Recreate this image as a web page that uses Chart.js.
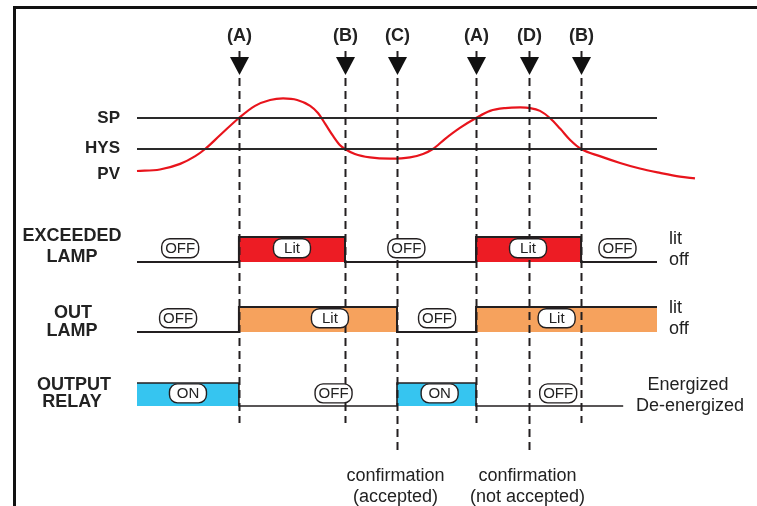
<!DOCTYPE html>
<html>
<head>
<meta charset="utf-8">
<script src="https://cdn.jsdelivr.net/npm/chart.js@4/dist/chart.umd.min.js"></script>
<style>
html,body{margin:0;padding:0;background:#fff;}
#wrap{width:757px;height:506px;}
</style>
</head>
<body>
<div id="wrap"><canvas id="c" width="757" height="506"></canvas></div>
<script>
// ---- DATA ----
const spValue = 60;
const hysValue = 50;
const pvTimes  = [0, 4.4, 8.3, 11.2, 13.1, 16.0, 19.6, 22.7, 25.6, 28.1, 30.8, 33.3, 34.8, 36.2, 37.7, 39.0, 40.0, 41.9, 44.8, 48.7, 52.5, 55.0, 56.9, 59.2, 62.1, 65.2, 67.9, 70.8, 73.7, 75.6, 77.5, 79.4, 81.4, 83.3, 85.4, 89.0, 92.9, 96.7, 100.6, 104.4, 107.3];
const pvValues = [42.9, 43.4, 45.2, 47.7, 50.0, 54.5, 60.0, 63.9, 65.8, 66.3, 65.8, 63.9, 61.6, 58.1, 54.2, 51.3, 50.0, 48.4, 47.3, 46.9, 47.3, 48.4, 50.0, 53.2, 56.8, 60.0, 62.3, 63.2, 63.4, 63.2, 62.3, 60.0, 56.5, 52.9, 50.0, 47.7, 45.5, 43.7, 42.3, 41.1, 40.5];
const traceEnd = 100;

const eventTimes  = [19.6, 40.0, 50.0, 65.2, 75.4, 85.4];
const eventNames  = ['(A)', '(B)', '(C)', '(A)', '(D)', '(B)'];
const eventNotes  = [null, null, ['confirmation', '(accepted)'], null, ['confirmation', '(not accepted)'], null];

const exceededTimes  = [0, 19.6, 40.0, 65.2, 85.4, 100];
const exceededStates = [0, 1, 0, 1, 0, 0];
const exceededPillTimes = [8.3, 29.8, 51.8, 75.2, 92.4];
const exceededPillTexts = ['OFF', 'Lit', 'OFF', 'Lit', 'OFF'];

const outTimes  = [0, 19.6, 50.0, 65.2, 100];
const outStates = [0, 1, 0, 1, 1];
const outPillTimes = [7.9, 37.1, 57.7, 80.7];
const outPillTexts = ['OFF', 'Lit', 'OFF', 'Lit'];

const relayTimes  = [0, 19.6, 50.0, 65.2, 93.5];
const relayStates = [1, 0, 1, 0, 0];
const relayPillTimes = [9.8, 37.8, 58.2, 81.0];
const relayPillTexts = ['ON', 'OFF', 'ON', 'OFF'];

// ---- STYLE / LAYOUT ----
const DARK = '#231F20';
const RED = '#E8141C';
const FILL_RED = '#ED1C24';
const FILL_ORANGE = '#F6A25D';
const FILL_BLUE = '#36C5F0';
const FONT = '"Liberation Sans", Arial, sans-serif';

const pts = (xs, ys) => xs.map((x, i) => ({x: x, y: ys[i]}));

const rowLayout = {
  yEx:  {base: 262, high: 237},
  yOut: {base: 332, high: 307},
  yRel: {base: 406, high: 383}
};
function rowScale(r) {
  const u = r.base - r.high;
  return {type: 'linear', display: false, min: -(506 - r.base) / u, max: r.base / u};
}

const annot = {
  id: 'annot',
  afterDatasetsDraw(chart) {
    const ctx = chart.ctx;
    const X = chart.scales.x;
    ctx.save();
    // frame
    ctx.strokeStyle = '#111';
    ctx.lineWidth = 3;
    ctx.beginPath();
    ctx.moveTo(14.5, 506); ctx.lineTo(14.5, 7.5); ctx.lineTo(757, 7.5);
    ctx.stroke();

    // event markers
    eventTimes.forEach((t, i) => {
      const px = Math.round(X.getPixelForValue(t)) + 0.5;
      ctx.strokeStyle = DARK;
      ctx.lineWidth = 2;
      ctx.setLineDash([8, 5]);
      ctx.beginPath();
      ctx.moveTo(px, 78);
      ctx.lineTo(px, eventNotes[i] ? 455 : 423);
      ctx.stroke();
      ctx.setLineDash([]);
      ctx.beginPath();
      ctx.moveTo(px, 51); ctx.lineTo(px, 58);
      ctx.stroke();
      ctx.fillStyle = '#111';
      ctx.beginPath();
      ctx.moveTo(px - 9.5, 57); ctx.lineTo(px + 9.5, 57); ctx.lineTo(px, 75);
      ctx.closePath(); ctx.fill();
      ctx.font = 'bold 18px ' + FONT;
      ctx.textAlign = 'center'; ctx.textBaseline = 'middle';
      ctx.fillStyle = '#222';
      ctx.fillText(eventNames[i], px, 36);
      if (eventNotes[i]) {
        ctx.font = '18px ' + FONT;
        ctx.fillText(eventNotes[i][0], px - 2, 476);
        ctx.fillText(eventNotes[i][1], px - 2, 497);
      }
    });

    // pills
    function pills(times, texts, axis) {
      const Y = chart.scales[axis];
      const py = Y.getPixelForValue(0.55);
      times.forEach((t, i) => {
        const cx = X.getPixelForValue(t);
        const w = 37, h = 19;
        ctx.beginPath();
        ctx.roundRect(cx - w / 2, py - h / 2, w, h, 8);
        ctx.fillStyle = '#fff';
        ctx.fill();
        ctx.lineWidth = 1.4;
        ctx.strokeStyle = DARK;
        ctx.stroke();
        ctx.fillStyle = '#222';
        ctx.font = '15px ' + FONT;
        ctx.textAlign = 'center'; ctx.textBaseline = 'middle';
        ctx.fillText(texts[i], cx, py + 1);
      });
    }
    pills(exceededPillTimes, exceededPillTexts, 'yEx');
    pills(outPillTimes, outPillTexts, 'yOut');
    pills(relayPillTimes, relayPillTexts, 'yRel');

    // left labels
    ctx.fillStyle = '#222';
    ctx.font = 'bold 17px ' + FONT;
    ctx.textAlign = 'right'; ctx.textBaseline = 'middle';
    const YP = chart.scales.yPV;
    ctx.fillText('SP', 120, YP.getPixelForValue(spValue));
    ctx.fillText('HYS', 120, YP.getPixelForValue(hysValue) - 1);
    ctx.fillText('PV', 120, YP.getPixelForValue(pvValues[0]) + 3);

    ctx.textAlign = 'center';
    ctx.font = 'bold 18px ' + FONT;
    ctx.fillText('EXCEEDED', 72, 236);
    ctx.fillText('LAMP', 72, 257);
    ctx.fillText('OUT', 73, 313);
    ctx.fillText('LAMP', 72, 331);
    ctx.fillText('OUTPUT', 74, 385);
    ctx.fillText('RELAY', 72, 402);

    // right labels
    ctx.font = '18px ' + FONT;
    ctx.textAlign = 'left';
    ctx.fillText('lit', 669, 239);
    ctx.fillText('off', 669, 260);
    ctx.fillText('lit', 669, 308);
    ctx.fillText('off', 669, 329);
    ctx.textAlign = 'center';
    ctx.fillText('Energized', 688, 385);
    ctx.fillText('De-energized', 690, 406);
    ctx.restore();
  }
};

new Chart(document.getElementById('c'), {
  type: 'line',
  data: {
    datasets: [
      {data: pts([0, traceEnd], [spValue, spValue]), yAxisID: 'yPV', borderColor: '#2a2a2a', borderWidth: 2, pointRadius: 0, fill: false},
      {data: pts([0, traceEnd], [hysValue, hysValue]), yAxisID: 'yPV', borderColor: '#2a2a2a', borderWidth: 2, pointRadius: 0, fill: false},
      {data: pts(pvTimes, pvValues), yAxisID: 'yPV', borderColor: RED, borderWidth: 2.2, pointRadius: 0, fill: false, cubicInterpolationMode: 'monotone'},
      {data: pts(exceededTimes, exceededStates), yAxisID: 'yEx', stepped: 'before', borderColor: DARK, borderWidth: 2, pointRadius: 0, fill: 'origin', backgroundColor: FILL_RED},
      {data: pts(outTimes, outStates), yAxisID: 'yOut', stepped: 'before', borderColor: DARK, borderWidth: 2, pointRadius: 0, fill: 'origin', backgroundColor: FILL_ORANGE},
      {data: pts(relayTimes, relayStates), yAxisID: 'yRel', stepped: 'before', borderColor: DARK, borderWidth: 1.6, pointRadius: 0, fill: 'origin', backgroundColor: FILL_BLUE}
    ]
  },
  options: {
    responsive: false,
    animation: false,
    devicePixelRatio: 1,
    layout: {padding: 0},
    plugins: {legend: {display: false}, tooltip: {enabled: false}},
    scales: {
      x: {type: 'linear', display: false, min: -137 / 5.2, max: 620 / 5.2},
      yPV: {type: 'linear', display: false, min: 60 - 388 / 3.1, max: 60 + 118 / 3.1},
      yEx: rowScale(rowLayout.yEx),
      yOut: rowScale(rowLayout.yOut),
      yRel: rowScale(rowLayout.yRel)
    }
  },
  plugins: [annot]
});
</script>
</body>
</html>
